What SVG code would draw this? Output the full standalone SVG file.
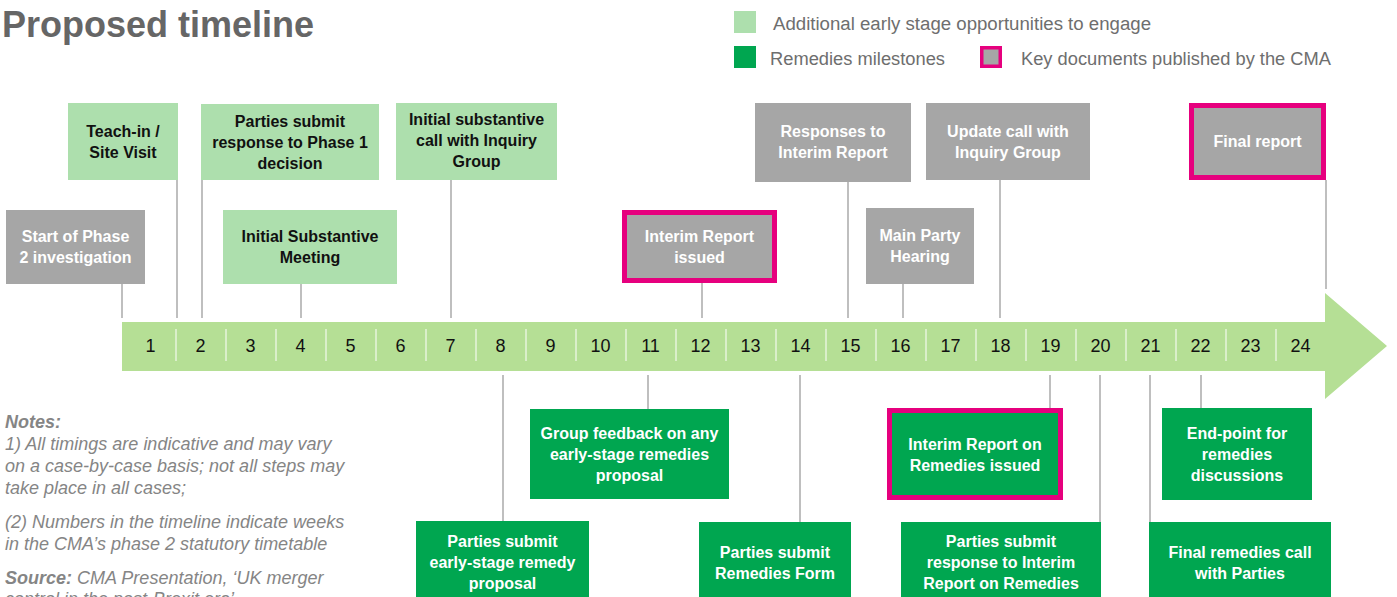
<svg xmlns="http://www.w3.org/2000/svg" width="1397" height="597" viewBox="0 0 1397 597">
<style>
.lg{fill:#addfad}
.dg{fill:#00a650}
.gr{fill:#a6a6a6}
.key{fill:none;stroke:#e6007e;stroke-width:5}
.bt{font-family:"Liberation Sans",Arial,sans-serif;font-size:16px;font-weight:bold;text-anchor:middle}
.bk{fill:#111}
.wh{fill:#fff}
.con line{stroke:#aaa;stroke-width:1.5}
.num{font-family:"Liberation Sans",Arial,sans-serif;font-size:18px;fill:#111;text-anchor:middle}
.leg{font-family:"Liberation Sans",Arial,sans-serif;font-size:18px;fill:#6e6e6e}
.note{font-family:"Liberation Sans",Arial,sans-serif;font-size:18px;font-style:italic;fill:#858585}
</style>
<rect width="1397" height="597" fill="#fff"/>
<text x="2" y="37" font-family="Liberation Sans,Arial,sans-serif" font-size="36" font-weight="bold" fill="#666">Proposed timeline</text>

<g id="legend">
<rect x="734" y="11" width="22" height="22" class="lg"/>
<text x="773" y="30" class="leg" textLength="378" lengthAdjust="spacingAndGlyphs">Additional early stage opportunities to engage</text>
<rect x="734" y="46" width="22" height="22" class="dg"/>
<text x="770" y="65" class="leg" textLength="175" lengthAdjust="spacingAndGlyphs">Remedies milestones</text>
<rect x="980" y="46" width="22" height="22" class="gr"/>
<rect x="981.75" y="47.75" width="18.5" height="18.5" fill="none" stroke="#e6007e" stroke-width="3.5"/>
<text x="1021" y="65" class="leg" textLength="310" lengthAdjust="spacingAndGlyphs">Key documents published by the CMA</text>
</g>

<g id="timeline">
<path d="M122,322 H1325 V293 L1387,346 L1325,399 V371 H122 Z" fill="#b5df95"/>
<g stroke="#fff" stroke-width="1">
<line x1="176" y1="329" x2="176" y2="361"/><line x1="226" y1="329" x2="226" y2="361"/><line x1="276" y1="329" x2="276" y2="361"/><line x1="326" y1="329" x2="326" y2="361"/><line x1="376" y1="329" x2="376" y2="361"/><line x1="426" y1="329" x2="426" y2="361"/><line x1="476" y1="329" x2="476" y2="361"/><line x1="526" y1="329" x2="526" y2="361"/><line x1="576" y1="329" x2="576" y2="361"/><line x1="626" y1="329" x2="626" y2="361"/><line x1="676" y1="329" x2="676" y2="361"/><line x1="726" y1="329" x2="726" y2="361"/><line x1="776" y1="329" x2="776" y2="361"/><line x1="826" y1="329" x2="826" y2="361"/><line x1="876" y1="329" x2="876" y2="361"/><line x1="926" y1="329" x2="926" y2="361"/><line x1="976" y1="329" x2="976" y2="361"/><line x1="1026" y1="329" x2="1026" y2="361"/><line x1="1076" y1="329" x2="1076" y2="361"/><line x1="1126" y1="329" x2="1126" y2="361"/><line x1="1176" y1="329" x2="1176" y2="361"/><line x1="1226" y1="329" x2="1226" y2="361"/><line x1="1276" y1="329" x2="1276" y2="361"/>
</g>
<g class="num">
<text x="150.5" y="352">1</text><text x="200.5" y="352">2</text><text x="250.5" y="352">3</text><text x="300.5" y="352">4</text><text x="350.5" y="352">5</text><text x="400.5" y="352">6</text><text x="450.5" y="352">7</text><text x="500.5" y="352">8</text><text x="550.5" y="352">9</text><text x="600.5" y="352">10</text><text x="650.5" y="352">11</text><text x="700.5" y="352">12</text><text x="750.5" y="352">13</text><text x="800.5" y="352">14</text><text x="850.5" y="352">15</text><text x="900.5" y="352">16</text><text x="950.5" y="352">17</text><text x="1000.5" y="352">18</text><text x="1050.5" y="352">19</text><text x="1100.5" y="352">20</text><text x="1150.5" y="352">21</text><text x="1200.5" y="352">22</text><text x="1250.5" y="352">23</text><text x="1300.5" y="352">24</text>
</g>
</g>

<g id="connectors" class="con">
<line x1="122" y1="284" x2="122" y2="318"/>
<line x1="177" y1="180" x2="177" y2="318"/>
<line x1="202" y1="180" x2="202" y2="318"/>
<line x1="301" y1="284" x2="301" y2="318"/>
<line x1="451" y1="180" x2="451" y2="318"/>
<line x1="702" y1="283" x2="702" y2="318"/>
<line x1="848" y1="182" x2="848" y2="318"/>
<line x1="903" y1="284" x2="903" y2="318"/>
<line x1="1000" y1="180" x2="1000" y2="318"/>
<line x1="1326" y1="180" x2="1326" y2="289"/>
<line x1="503" y1="375" x2="503" y2="521"/>
<line x1="648" y1="375" x2="648" y2="409"/>
<line x1="800" y1="375" x2="800" y2="522"/>
<line x1="1050" y1="375" x2="1050" y2="408"/>
<line x1="1100" y1="375" x2="1100" y2="522"/>
<line x1="1201" y1="375" x2="1201" y2="408"/>
<line x1="1150" y1="375" x2="1150" y2="522"/>
</g>

<g id="start-phase2">
<rect x="6" y="210" width="139" height="74" class="gr"/>
<text class="bt wh" x="75.5" y="242">Start of Phase</text>
<text class="bt wh" x="75.5" y="263">2 investigation</text>
</g>
<g id="teach-in">
<rect x="68" y="103" width="110" height="77" class="lg"/>
<text class="bt bk" x="123" y="137">Teach-in /</text>
<text class="bt bk" x="123" y="158">Site Visit</text>
</g>
<g id="response-phase1">
<rect x="201" y="104" width="178" height="76" class="lg"/>
<text class="bt bk" x="290" y="127">Parties submit</text>
<text class="bt bk" x="290" y="148">response to Phase 1</text>
<text class="bt bk" x="290" y="169">decision</text>
</g>
<g id="initial-meeting">
<rect x="223" y="210" width="174" height="74" class="lg"/>
<text class="bt bk" x="310" y="242">Initial Substantive</text>
<text class="bt bk" x="310" y="263">Meeting</text>
</g>
<g id="initial-call">
<rect x="396" y="103" width="161" height="77" class="lg"/>
<text class="bt bk" x="476.5" y="125">Initial substantive</text>
<text class="bt bk" x="476.5" y="146">call with Inquiry</text>
<text class="bt bk" x="476.5" y="167">Group</text>
</g>
<g id="interim-report">
<rect x="622" y="210" width="155" height="73" class="gr"/>
<rect x="624.5" y="212.5" width="150" height="68" class="key"/>
<text class="bt wh" x="699.5" y="242">Interim Report</text>
<text class="bt wh" x="699.5" y="263">issued</text>
</g>
<g id="responses-interim">
<rect x="755" y="103" width="156" height="79" class="gr"/>
<text class="bt wh" x="833" y="137">Responses to</text>
<text class="bt wh" x="833" y="158">Interim Report</text>
</g>
<g id="main-party-hearing">
<rect x="866" y="208" width="108" height="76" class="gr"/>
<text class="bt wh" x="920" y="241">Main Party</text>
<text class="bt wh" x="920" y="262">Hearing</text>
</g>
<g id="update-call">
<rect x="926" y="103" width="164" height="77" class="gr"/>
<text class="bt wh" x="1008" y="137">Update call with</text>
<text class="bt wh" x="1008" y="158">Inquiry Group</text>
</g>
<g id="final-report">
<rect x="1189" y="103" width="137" height="77" class="gr"/>
<rect x="1191.5" y="105.5" width="132" height="72" class="key"/>
<text class="bt wh" x="1257.5" y="147">Final report</text>
</g>

<g id="early-remedy">
<rect x="416" y="521" width="173" height="80" class="dg"/>
<text class="bt wh" x="502.5" y="547">Parties submit</text>
<text class="bt wh" x="502.5" y="568">early-stage remedy</text>
<text class="bt wh" x="502.5" y="589">proposal</text>
</g>
<g id="group-feedback">
<rect x="530" y="409" width="199" height="90" class="dg"/>
<text class="bt wh" x="629.5" y="439">Group feedback on any</text>
<text class="bt wh" x="629.5" y="460">early-stage remedies</text>
<text class="bt wh" x="629.5" y="481">proposal</text>
</g>
<g id="remedies-form">
<rect x="699" y="522" width="152" height="79" class="dg"/>
<text class="bt wh" x="775" y="558">Parties submit</text>
<text class="bt wh" x="775" y="579">Remedies Form</text>
</g>
<g id="interim-remedies">
<rect x="887" y="408" width="176" height="92" class="dg"/>
<rect x="889.5" y="410.5" width="171" height="87" class="key"/>
<text class="bt wh" x="975" y="450">Interim Report on</text>
<text class="bt wh" x="975" y="471">Remedies issued</text>
</g>
<g id="response-interim-remedies">
<rect x="901" y="522" width="200" height="79" class="dg"/>
<text class="bt wh" x="1001" y="547">Parties submit</text>
<text class="bt wh" x="1001" y="568">response to Interim</text>
<text class="bt wh" x="1001" y="589">Report on Remedies</text>
</g>
<g id="end-point">
<rect x="1162" y="408" width="150" height="92" class="dg"/>
<text class="bt wh" x="1237" y="439">End-point for</text>
<text class="bt wh" x="1237" y="460">remedies</text>
<text class="bt wh" x="1237" y="481">discussions</text>
</g>
<g id="final-remedies-call">
<rect x="1149" y="522" width="182" height="79" class="dg"/>
<text class="bt wh" x="1240" y="558">Final remedies call</text>
<text class="bt wh" x="1240" y="579">with Parties</text>
</g>

<g id="notes" class="note">
<text x="5" y="428" font-weight="bold">Notes:</text>
<text x="5" y="450">1) All timings are indicative and may vary</text>
<text x="5" y="472">on a case-by-case basis; not all steps may</text>
<text x="5" y="494">take place in all cases;</text>
<text x="5" y="528">(2) Numbers in the timeline indicate weeks</text>
<text x="5" y="550">in the CMA’s phase 2 statutory timetable</text>
<text x="5" y="584"><tspan font-weight="bold">Source:</tspan> CMA Presentation, ‘UK merger</text>
<text x="5" y="605">control in the post-Brexit era’</text>
</g>
</svg>
